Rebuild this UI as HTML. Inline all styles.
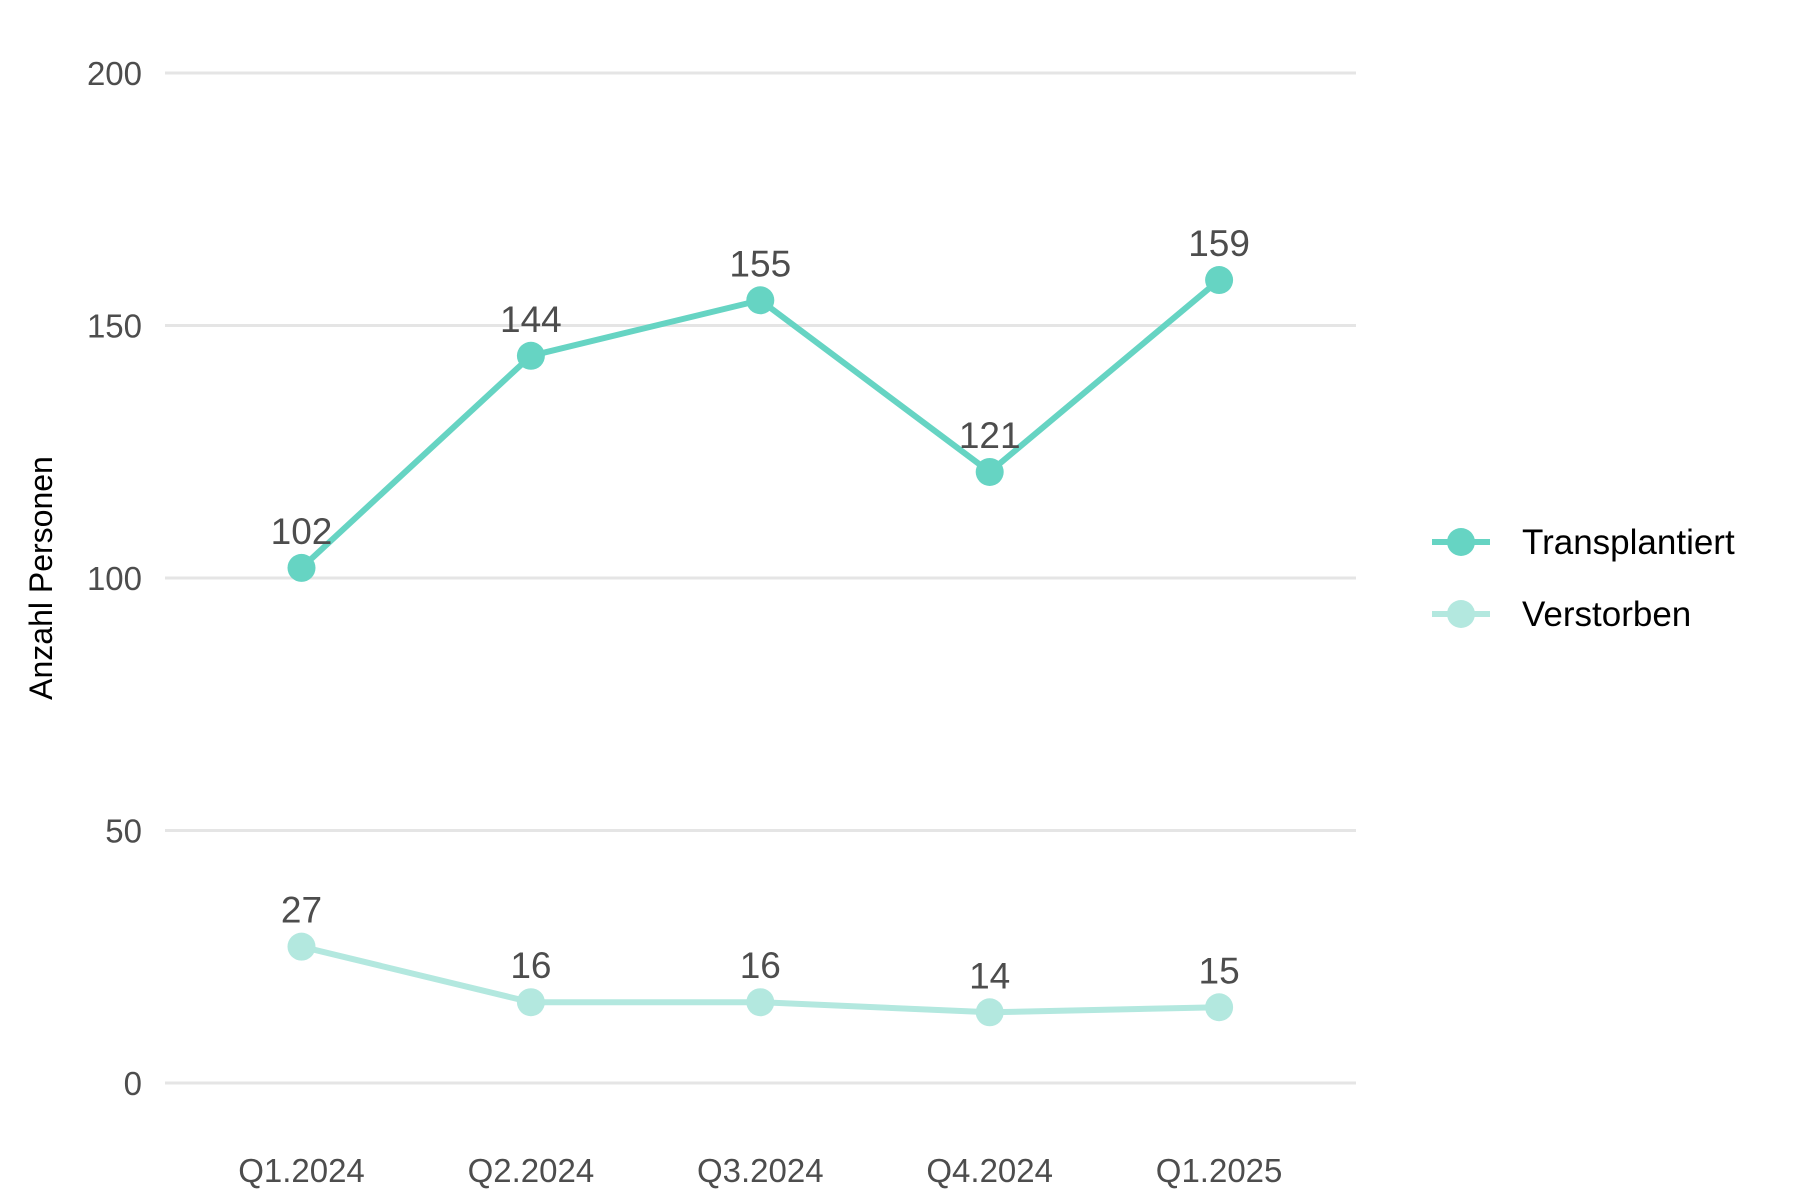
<!DOCTYPE html>
<html><head><meta charset="utf-8"><style>
html,body{margin:0;padding:0;background:#fff;}
svg{display:block;font-family:"Liberation Sans",Arial,sans-serif;}
</style></head><body>
<svg id="chart" width="1800" height="1200" viewBox="0 0 1800 1200">
<g id="grid"></g><g id="yticks"></g><g id="xticks"></g><g id="series"></g>
<text transform="translate(52,578) rotate(-90)" text-anchor="middle" font-size="32" fill="#000">Anzahl Personen</text>
<g>
<g>
<line x1="1432" y1="542" x2="1490" y2="542" stroke="#66d4c3" stroke-width="6"/>
<circle cx="1461" cy="542" r="14" fill="#66d4c3"/>
<text x="1522" y="554" font-size="35" fill="#000">Transplantiert</text></g>
<g>
<line x1="1432" y1="614" x2="1490" y2="614" stroke="#b3e8df" stroke-width="6"/>
<circle cx="1461" cy="614" r="14" fill="#b3e8df"/>
<text x="1522" y="626" font-size="35" fill="#000">Verstorben</text></g>
</g>
</svg>
<script>
const categories=["Q1.2024","Q2.2024","Q3.2024","Q4.2024","Q1.2025"];
const transplantiert=[102,144,155,121,159];
const verstorben=[27,16,16,14,15];
const yTicks=[0,50,100,150,200];
const NS="http://www.w3.org/2000/svg";
function y(v){return 1083-(v/200)*(1083-73);}
function x(i){return 301.5+i*229.4;}
function mk(tag,attrs,parent,txt){const e=document.createElementNS(NS,tag);for(const k in attrs)e.setAttribute(k,attrs[k]);if(txt!=null)e.textContent=txt;parent.appendChild(e);return e;}
const grid=document.getElementById('grid'),yt=document.getElementById('yticks'),xt=document.getElementById('xticks'),ser=document.getElementById('series');
yTicks.forEach(t=>{
const l=mk('line',{x1:165,x2:1356,y1:y(t),y2:y(t),stroke:'#e5e5e5','stroke-width':3},grid);


const tx=mk('text',{x:142,y:y(t)+12,'text-anchor':'end','font-size':33,fill:'#4d4d4d'},yt,t);


});
categories.forEach((c,i)=>{
const tx=mk('text',{x:x(i),y:1182,'text-anchor':'middle','font-size':33,fill:'#4d4d4d'},xt,c);


});
function draw(vals,color,name){
const g=mk('g',{},ser);


const p=mk('polyline',{points:vals.map((v,i)=>x(i)+','+y(v)).join(' '),fill:'none',stroke:color,'stroke-width':6,'stroke-linejoin':'round'},g);


vals.forEach((v,i)=>{
const c=mk('circle',{cx:x(i),cy:y(v),r:14,fill:color},g);


const t=mk('text',{x:x(i),y:y(v)-24,'text-anchor':'middle','font-size':37,fill:'#4d4d4d'},g,v);


});
}
draw(transplantiert,'#66d4c3','transplantiert');
draw(verstorben,'#b3e8df','verstorben');
</script>
</body></html>
